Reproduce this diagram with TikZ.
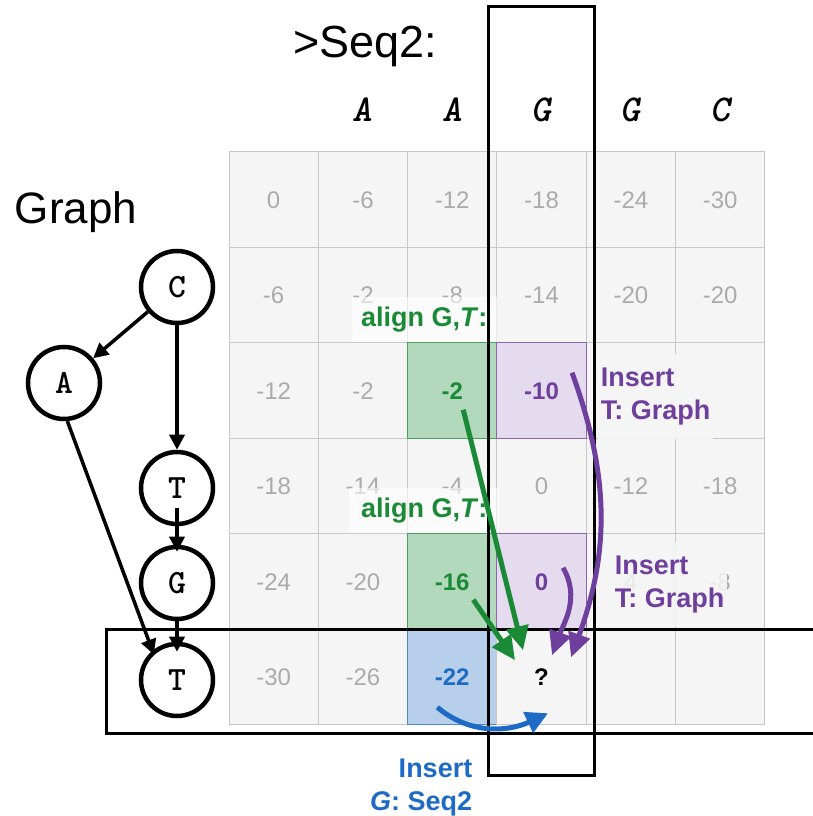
\documentclass[tikz,border=0pt]{standalone}
\usepackage{fontspec}
\setmainfont{Liberation Sans}
\usetikzlibrary{arrows.meta,positioning,calc}

\definecolor{cellfill}{HTML}{F5F5F5}
\definecolor{cellline}{HTML}{C8C8C8}
\definecolor{numgray}{HTML}{ABABAB}
\definecolor{aligngreen}{HTML}{1B8A36}
\definecolor{greenfill}{HTML}{B2D9BB}
\definecolor{insertpurple}{HTML}{6E3F9C}
\definecolor{purplefill}{HTML}{E4DCEE}
\definecolor{seqblue}{HTML}{1E6BC5}
\definecolor{bluefill}{HTML}{B7CFEA}

\begin{document}
\begin{tikzpicture}[
  x=1pt, y=1pt,
  cell/.style={draw=cellline, fill=cellfill, line width=1pt, minimum width=89.3pt, minimum height=95.5pt,
    inner sep=0pt, text=numgray, font=\fontsize{24}{24}\selectfont},
  hit/.style={cell, font=\fontsize{24}{24}\selectfont\bfseries},
  gcell/.style={hit, fill=greenfill, draw=aligngreen!80, text=aligngreen},
  pcell/.style={hit, fill=purplefill, draw=insertpurple!80, text=insertpurple},
  bcell/.style={hit, fill=bluefill, draw=seqblue!80, text=seqblue},
  tag/.style={font=\fontsize{27}{33}\selectfont\bfseries, inner sep=3pt, fill=white, fill opacity=0.6, text opacity=1},
  vert/.style={circle, draw, line width=4.5pt, minimum size=72pt, inner sep=0pt, font=\ttfamily\bfseries\fontsize{34}{34}\selectfont},
  seqchar/.style={font=\ttfamily\bfseries\itshape\fontsize{38}{38}\selectfont},
  edge/.style={line width=3.5pt, -{Triangle[length=15pt,width=15pt]}},
  galign/.style={line width=5pt, aligngreen, -{Triangle[length=24pt,width=22pt]}},
  pinsert/.style={line width=5pt, insertpurple, -{Triangle[length=24pt,width=22pt]}},
  binsert/.style={line width=5pt, seqblue, -{Triangle[length=22pt,width=22pt]}},
  frame/.style={line width=3pt}
]
\useasboundingbox (0,0) rectangle (813,816);

% DP matrix, rows = graph nodes, columns = Seq2
\foreach \vals [count=\r from 0] in {
  {0,-6,-12,-18,-24,-30},
  {-6,-2,-8,-14,-20,-20},
  {-12,-2,{},{},{},{}},
  {-18,-14,-4,0,-12,-18},
  {-24,-20,{},{},4,-8},
  {-30,-26,{},{},{},{}}} {
  \foreach \v [count=\c from 0] in \vals {
    \node[cell] (c-\r-\c) at ({229+89.3*(\c+0.5)},{664-95.5*(\r+0.5)}) {\v};
  }
}

\node[gcell] (g22) at (c-2-2) {-2};
\node[pcell] (p23) at (c-2-3) {-10};
\node[gcell] (g42) at (c-4-2) {-16};
\node[pcell] (p43) at (c-4-3) {0};
\node[bcell] (b52) at (c-5-2) {-22};
\node[hit, text=black] (q) at (c-5-3) {?};

% sequence header
\node[font=\fontsize{45}{45}\selectfont] (seq) at (365,770) {>Seq2:};
\foreach \ch [count=\c] in {A,A,G,G,C}
  \node[seqchar] (s\c) at ($(c-0-\c.north)+(0,42)$) {\ch};

% labels
\node[tag, text=aligngreen, minimum width=145pt, minimum height=45pt, above=0pt of c-2-2, xshift=-28pt] (al1) {align G,\textit{T}:};
\node[tag, text=aligngreen, minimum width=150pt, minimum height=45pt, above=0pt of c-4-2, xshift=-28pt] (al2) {align G,\textit{T}:};
\node[tag, text=insertpurple, align=left, fill=cellfill, fill opacity=0.95, minimum height=85pt, anchor=west] (in1) at ($(c-2-4.west)+(12,-6)$) {Insert\\T: Graph};
\node[tag, text=insertpurple, align=left, fill=cellfill, fill opacity=0.85, minimum height=85pt, anchor=west] (in2) at ($(c-4-4.west)+(26,-3)$) {Insert\\T: Graph};
\node[tag, text=seqblue, align=right, fill=none, below=30pt of c-5-2, xshift=-31pt] (in3) {Insert\\\textit{G}: Seq2};

% highlighted column and row
\draw[frame] (488,809) rectangle (594,40);
\draw[frame] (106,186) rectangle (840,82);

% moves into the open cell
\draw[galign] ($(g22.center)+(11,-19)$) -- ($(q.center)+(-18.5,27)$);
\draw[galign] ($(g42.center)+(21,-18)$) -- ($(q.center)+(-26.5,17)$);
\draw[pinsert] ($(p23.center)+(30.5,18)$) to[out=-70,in=70] ($(q.center)+(29.5,20)$);
\draw[pinsert] ($(p43.center)+(21.5,14)$) to[out=-60,in=70] ($(q.center)+(10.5,22)$);
\draw[binsert] ($(b52.center)+(-15,-30)$) to[out=-40,in=-155] ($(q.center)+(6.5,-36)$);

% graph
\node[font=\fontsize{44}{44}\selectfont] (graph) at (76,604) {Graph};
\node[vert] (C) at (177,529) {C};
\node[vert] (A) at (64,433) {A};
\node[vert, below=124.5pt of C] (T1) {T};
\node[vert, below=18.5pt of T1] (G) {G};
\node[vert, below=20.5pt of G] (T2) {T};

\draw[edge] (C) -- (A);
\draw[edge] (C) -- (T1);
\draw[edge, shorten <=-18pt, shorten >=-7pt] (T1) -- (G);
\draw[edge, shorten <=-2pt, shorten >=-10pt] (G) -- (T2);
\draw[edge, shorten >=-4pt] (A.-85) -- (T2.130);

\end{tikzpicture}
\end{document}
